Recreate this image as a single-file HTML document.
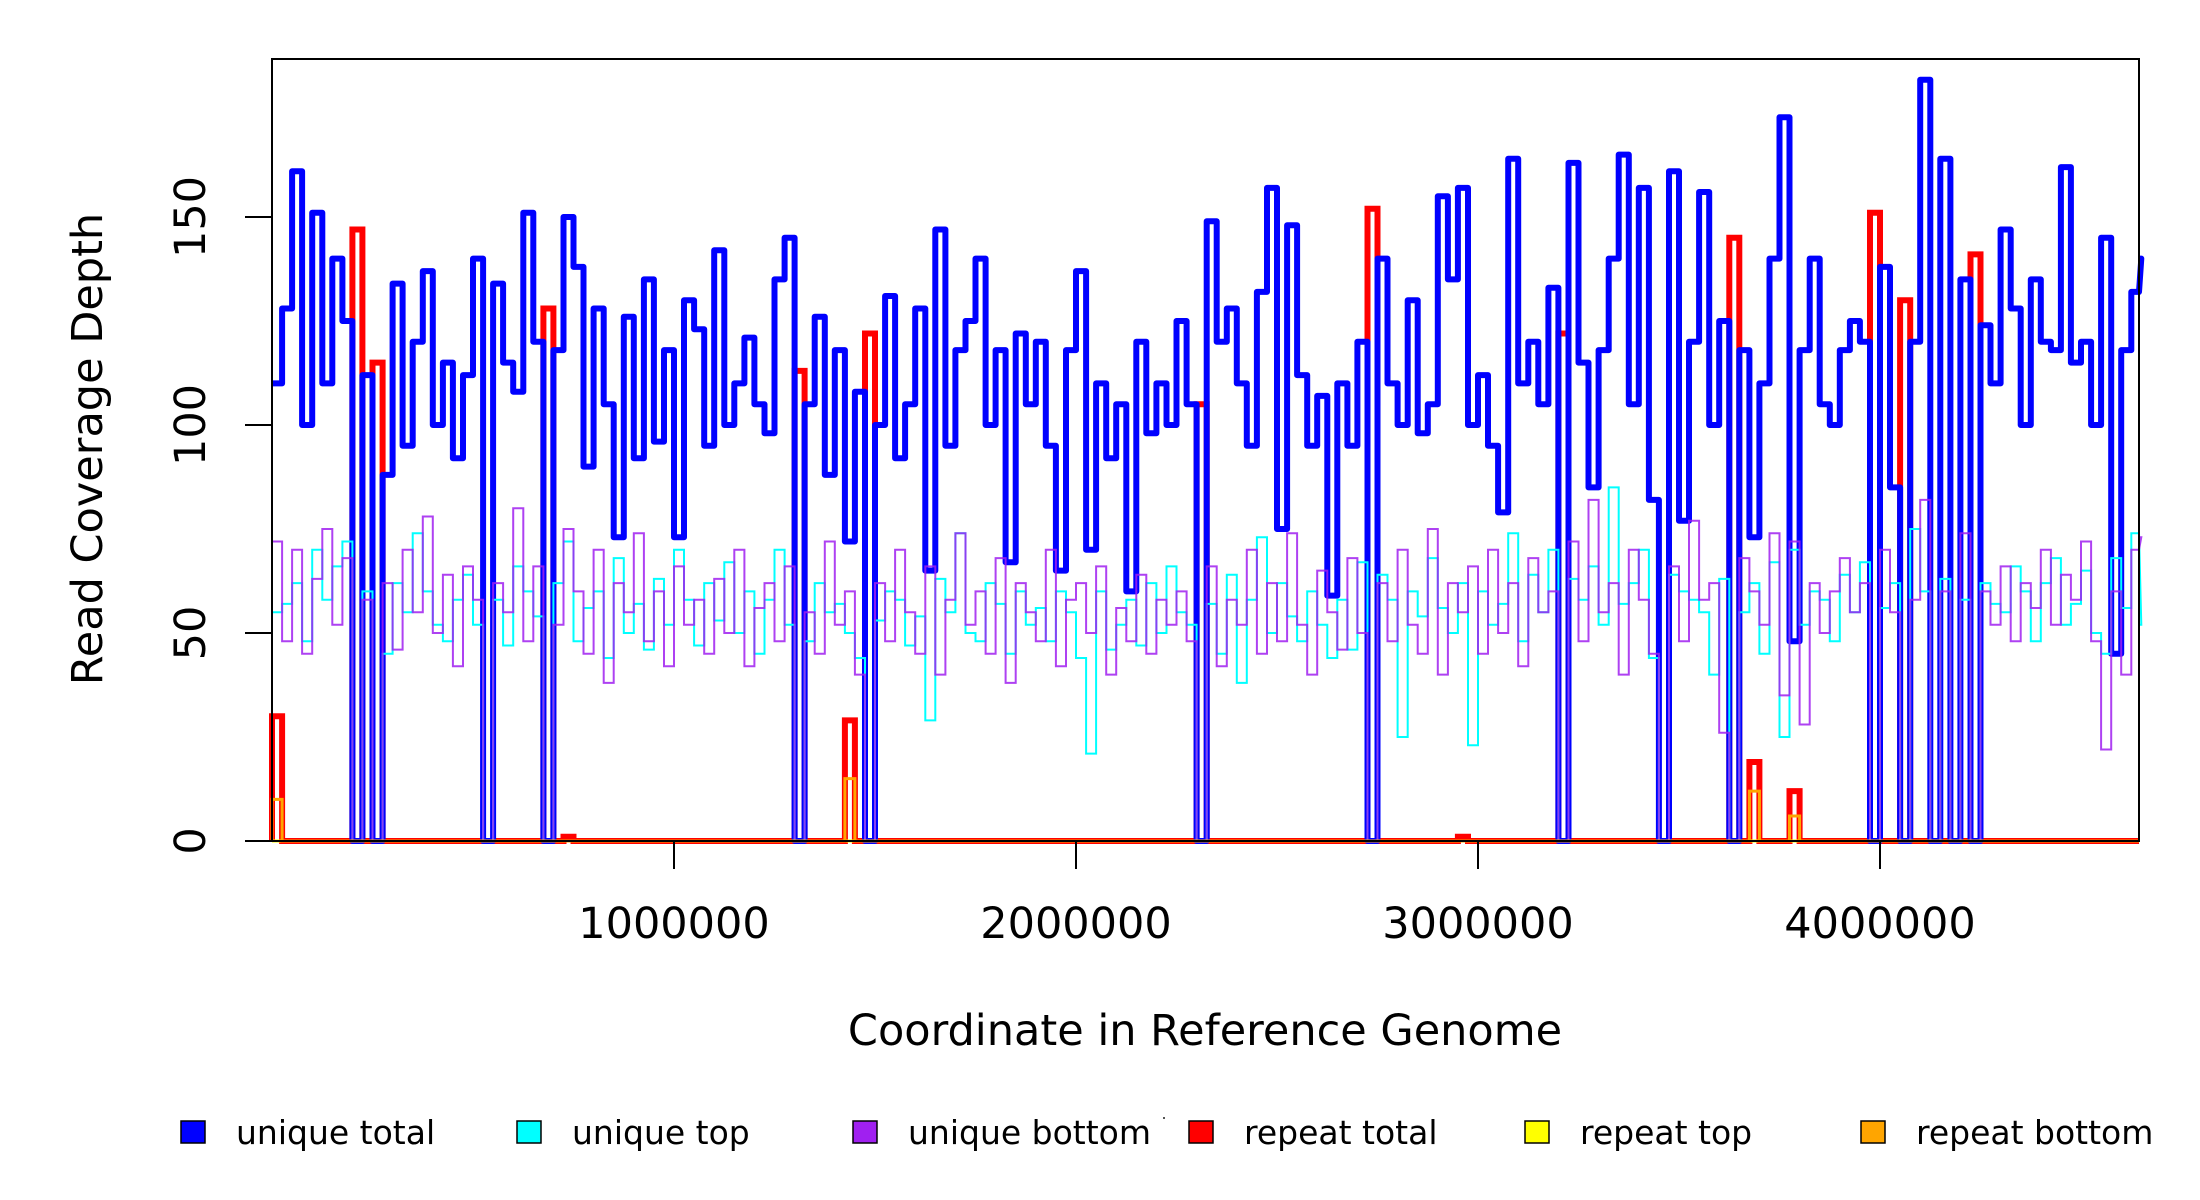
<!DOCTYPE html>
<html><head><meta charset="utf-8"><title>Read Coverage Depth</title>
<style>
html,body{margin:0;padding:0;background:#fff;}
svg{display:block;font-family:"DejaVu Sans","Liberation Sans",sans-serif;}
</style></head>
<body>
<svg id="chart" width="2200" height="1200" viewBox="0 0 2200 1200" xmlns="http://www.w3.org/2000/svg">
  <rect x="0" y="0" width="2200" height="1200" fill="#fff"/>
  <g id="series"></g>
  <rect x="272" y="59" width="1867" height="782" fill="none" stroke="#000" stroke-width="2"/>
  <g id="yaxis"></g>
  <g id="xaxis"></g>
  <text x="1205" y="1045" font-size="43" text-anchor="middle">Coordinate in Reference Genome</text>
  <text x="0" y="0" font-size="43" text-anchor="middle" transform="translate(102,449) rotate(-90)">Read Coverage Depth</text>
  <rect x="1163" y="1117" width="2" height="2" fill="#555"/>
  <g id="legend"></g>
</svg>
<script>
const binSize = 25000;
const uniqueTotal = [
110,128,161,100,151,110,140,125,0,112,
0,88,134,95,120,137,100,115,92,112,
140,0,134,115,108,151,120,0,118,150,
138,90,128,105,73,126,92,135,96,118,
73,130,123,95,142,100,110,121,105,98,
135,145,0,105,126,88,118,72,108,0,
100,131,92,105,128,65,147,95,118,125,
140,100,118,67,122,105,120,95,65,118,
137,70,110,92,105,60,120,98,110,100,
125,105,0,149,120,128,110,95,132,157,
75,148,112,95,107,59,110,95,120,0,
140,110,100,130,98,105,155,135,157,100,
112,95,79,164,110,120,105,133,0,163,
115,85,118,140,165,105,157,82,0,161,
77,120,156,100,125,0,118,73,110,140,
174,48,118,140,105,100,118,125,120,0,
138,85,0,120,183,0,164,0,135,0,
124,110,147,128,100,135,120,118,162,115,
120,100,145,45,118,132,140];
const uniqueTop = [
55,57,62,48,70,58,66,72,0,60,
0,45,62,55,74,60,52,48,58,64,
52,0,58,47,66,60,54,0,62,72,
48,56,60,44,68,50,57,46,63,52,
70,58,47,62,53,67,50,60,45,58,
70,52,0,48,62,55,57,50,44,0,
53,60,58,47,54,29,63,55,74,50,
48,62,57,45,60,52,56,48,60,55,
44,21,60,46,52,58,47,62,50,66,
55,52,0,57,45,64,38,58,73,50,
62,54,48,60,52,44,58,46,67,0,
64,58,25,60,54,68,56,50,62,23,
60,52,57,74,48,64,55,70,0,63,
58,66,52,85,57,62,70,44,0,64,
60,58,55,40,63,0,55,62,45,67,
25,70,52,60,58,48,64,55,67,0,
56,62,0,75,60,0,63,0,58,0,
62,57,55,66,60,48,62,68,52,57,
65,50,45,68,56,74,52];
const uniqueBottom = [
72,48,70,45,63,75,52,68,0,58,
0,62,46,70,55,78,50,64,42,66,
58,0,62,55,80,48,66,0,52,75,
60,45,70,38,62,55,74,48,60,42,
66,52,58,45,63,50,70,42,56,62,
48,66,0,55,45,72,52,60,40,0,
62,48,70,55,45,66,40,58,74,52,
60,45,68,38,62,55,48,70,42,58,
62,50,66,40,56,48,64,45,58,52,
60,48,0,66,42,58,52,70,45,62,
48,74,52,40,65,55,46,68,50,0,
62,48,70,52,45,75,40,62,55,66,
45,70,50,62,42,68,55,60,0,72,
48,82,55,62,40,70,58,45,0,66,
48,77,58,62,26,0,68,60,52,74,
35,72,28,62,50,60,68,55,62,0,
70,55,0,58,82,0,60,0,74,0,
60,52,66,48,62,56,70,52,64,58,
72,48,22,60,40,70,73];
const repeatBins   = [0, 8, 10, 27, 29, 52, 57, 59, 92, 109, 118, 128, 145, 147, 151, 159, 162, 169];
const repeatTotal  = [30,147,115,128, 1,113, 29,122,105,152,  1,122,145, 19, 12,151,130,141];
const repeatTop    = [0, 0, 0, 0, 0, 0, 0, 0, 0, 0, 0, 0, 0, 0, 0, 0, 0, 0];
const repeatBottom = [10, 0, 0, 0, 0, 0, 15, 0, 0, 0, 0, 0, 0, 12, 6, 0, 0, 0];
const yTicks = [0, 50, 100, 150];
const xTicks = [1000000, 2000000, 3000000, 4000000];
const xTickLabels = ["1000000", "2000000", "3000000", "4000000"];
const legendLabels = ["unique total","unique top","unique bottom","repeat total","repeat top","repeat bottom"];
const legendColors = ["#0000ff","#00ffff","#a020f0","#ff0000","#ffff00","#ffa500"];

const NS = "http://www.w3.org/2000/svg";
const X0 = 272, X1 = 2139, Y0 = 841, PXPERUNIT = 4.16, PXPERBP = 402 / 1e6;
function xs(bp){ return X0 + bp * PXPERBP; }
function ys(v){ return Y0 - v * PXPERUNIT; }
function mk(tag, attrs, parent){
  const e = document.createElementNS(NS, tag);
  for (const k in attrs) e.setAttribute(k, attrs[k]);
  parent.appendChild(e);
  return e;
}
function stepPath(vals){
  let d = "M" + xs(0).toFixed(1) + "," + ys(vals[0]).toFixed(1);
  for (let i = 0; i < vals.length; i++){
    const xa = xs(i * binSize), xb = Math.min(xs((i + 1) * binSize), X1);
    d += "L" + xa.toFixed(1) + "," + ys(vals[i]).toFixed(1) + "L" + xb.toFixed(1) + "," + ys(vals[i]).toFixed(1);
  }
  return d;
}
function spikePath(bins, vals){
  let d = "M" + X0 + "," + Y0;
  for (let k = 0; k < bins.length; k++){
    const xa = xs(bins[k] * binSize), xb = xs((bins[k] + 1) * binSize);
    d += "L" + xa.toFixed(1) + "," + Y0 + "L" + xa.toFixed(1) + "," + ys(vals[k]).toFixed(1) +
         "L" + xb.toFixed(1) + "," + ys(vals[k]).toFixed(1) + "L" + xb.toFixed(1) + "," + Y0;
  }
  d += "L" + X1 + "," + Y0;
  return d;
}
const S = document.getElementById("series");
const pRed = mk("path", {d: spikePath(repeatBins, repeatTotal), fill: "none", stroke: "#ff0000", "stroke-width": 6}, S);


const pBlue = mk("path", {d: stepPath(uniqueTotal), fill: "none", stroke: "#0000ff", "stroke-width": 6, "stroke-linejoin": "round"}, S);


const pCyan = mk("path", {d: stepPath(uniqueTop), fill: "none", stroke: "#00ffff", "stroke-width": 2}, S);


const pPurple = mk("path", {d: stepPath(uniqueBottom), fill: "none", stroke: "#a020f0", "stroke-width": 2, opacity: 0.85}, S);


const pYellow = mk("path", {d: spikePath(repeatBins, repeatTop), fill: "none", stroke: "#ffff00", "stroke-width": 3}, S);


const pOrange = mk("path", {d: spikePath(repeatBins, repeatBottom), fill: "none", stroke: "#ffa500", "stroke-width": 3}, S);



const YA = document.getElementById("yaxis");
yTicks.forEach(v => {
  const t = mk("line", {x1: 245, x2: 272, y1: ys(v), y2: ys(v), stroke: "#000", "stroke-width": 2}, YA);
  
  
  const l = mk("text", {x: 0, y: 0, "font-size": 43, "text-anchor": "middle", transform: "translate(205," + ys(v) + ") rotate(-90)"}, YA);
  l.textContent = String(v);
  
  
});
const XA = document.getElementById("xaxis");
xTicks.forEach((v, i) => {
  const t = mk("line", {x1: xs(v), x2: xs(v), y1: 841, y2: 869, stroke: "#000", "stroke-width": 2}, XA);
  
  
  const l = mk("text", {x: xs(v), y: 938, "font-size": 43, "text-anchor": "middle"}, XA);
  l.textContent = xTickLabels[i];
  
  
});
const LG = document.getElementById("legend");
legendLabels.forEach((lab, i) => {
  const bx = 181 + i * 336;
  const r = mk("rect", {x: bx, y: 1121, width: 24, height: 22, fill: legendColors[i], stroke: "#000", "stroke-width": 1.5}, LG);
  
  
  const t = mk("text", {x: bx + 55, y: 1144, "font-size": 33}, LG);
  t.textContent = lab;
  
  
});
</script>
</body></html>
